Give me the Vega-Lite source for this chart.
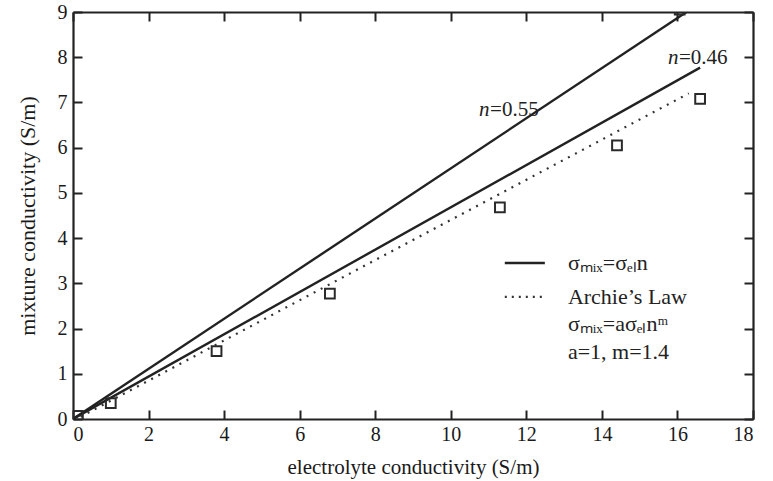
{
  "$schema": "https://vega.github.io/schema/vega-lite/v6.json",
  "width": 680,
  "height": 407,
  "autosize": {"type": "none"},
  "padding": {"left": 73, "top": 12, "right": 20, "bottom": 62},
  "background": "white",
  "config": {
    "view": {"stroke": null},
    "font": "Liberation Serif",
    "axis": {
      "grid": false,
      "domainColor": "#222",
      "domainWidth": 2.2,
      "tickColor": "#222",
      "tickWidth": 2,
      "tickSize": -9,
      "labelFont": "Liberation Serif",
      "labelFontSize": 20,
      "labelColor": "#1a1a1a",
      "titleFont": "Liberation Serif",
      "titleFontWeight": "normal",
      "titleColor": "#1a1a1a"
    }
  },
  "datasets": {
    "points": [
      {"x": 0.13, "y": 0.07},
      {"x": 1.0, "y": 0.35},
      {"x": 3.8, "y": 1.5},
      {"x": 6.8, "y": 2.77},
      {"x": 11.3, "y": 4.68},
      {"x": 14.4, "y": 6.05},
      {"x": 16.6, "y": 7.08},
      {"x": 16.06, "y": 9.05}
    ],
    "lines": [
      {"series": "n055", "x": 0, "y": 0},
      {"series": "n055", "x": 16.24, "y": 9.0},
      {"series": "n046", "x": 0, "y": 0},
      {"series": "n046", "x": 16.6, "y": 7.77}
    ],
    "archie": [
      {"x": 0.2, "y": 0.05},
      {"x": 16.3, "y": 7.2}
    ],
    "nlabels": [
      {"x": 10.75, "y": 6.83, "rest": "=0.55"},
      {"x": 15.75, "y": 7.98, "rest": "=0.46"}
    ],
    "legsolid": [{"x": 11.43, "x2": 12.49, "y": 3.45}],
    "legdot": [{"x": 11.43, "x2": 12.49, "y": 2.7}],
    "legtext": [
      {"x": 13.1, "y": 3.45, "t": "σₘᵢₓ=σₑₗn"},
      {"x": 13.1, "y": 2.7, "t": "Archie’s Law"},
      {"x": 13.1, "y": 2.1, "t": "σₘᵢₓ=aσₑₗnᵐ"},
      {"x": 13.1, "y": 1.48, "t": "a=1, m=1.4"}
    ]
  },
  "resolve": {"axis": {"x": "independent", "y": "independent"}},
  "layer": [
    {
      "data": {"name": "lines"},
      "mark": {"type": "line", "color": "#222", "strokeWidth": 2.4, "clip": true},
      "encoding": {
        "x": {"field": "x", "type": "quantitative", "scale": {"domain": [0, 18]},
              "axis": {"values": [0,2,4,6,8,10,12,14,16,18], "title": "electrolyte conductivity (S/m)", "titleFontSize": 21, "labelPadding": 14, "titlePadding": 12}},
        "y": {"field": "y", "type": "quantitative", "scale": {"domain": [0, 9]},
              "axis": {"values": [0,1,2,3,4,5,6,7,8,9], "title": "mixture conductivity (S/m)", "titleFontSize": 22, "labelPadding": 15, "titlePadding": 18}},
        "detail": {"field": "series"}
      }
    },
    {
      "data": {"name": "points"},
      "mark": {"type": "point", "shape": "square", "size": 95, "filled": false, "color": "#2a2a2a", "strokeWidth": 2, "opacity": 1, "clip": true},
      "encoding": {
        "x": {"field": "x", "type": "quantitative", "scale": {"domain": [0, 18]},
              "axis": {"orient": "top", "values": [0,2,4,6,8,10,12,14,16,18], "labels": false, "title": null}},
        "y": {"field": "y", "type": "quantitative", "scale": {"domain": [0, 9]},
              "axis": {"orient": "right", "values": [0,1,2,3,4,5,6,7,8,9], "labels": false, "title": null}}
      }
    },
    {
      "data": {"name": "archie"},
      "mark": {"type": "line", "color": "#333", "strokeWidth": 2.2, "strokeDash": [2, 6]},
      "encoding": {
        "x": {"field": "x", "type": "quantitative", "axis": null},
        "y": {"field": "y", "type": "quantitative", "axis": null}
      }
    },
    {
      "data": {"name": "nlabels"},
      "mark": {"type": "text", "text": "n", "font": "Liberation Serif", "fontSize": 21, "fontStyle": "italic", "align": "left", "baseline": "middle", "color": "#222"},
      "encoding": {
        "x": {"field": "x", "type": "quantitative", "axis": null},
        "y": {"field": "y", "type": "quantitative", "axis": null}
      }
    },
    {
      "data": {"name": "nlabels"},
      "mark": {"type": "text", "font": "Liberation Serif", "fontSize": 21, "align": "left", "baseline": "middle", "dx": 11, "color": "#222"},
      "encoding": {
        "x": {"field": "x", "type": "quantitative", "axis": null},
        "y": {"field": "y", "type": "quantitative", "axis": null},
        "text": {"field": "rest"}
      }
    },
    {
      "data": {"name": "legsolid"},
      "mark": {"type": "rule", "color": "#222", "strokeWidth": 2.4},
      "encoding": {
        "x": {"field": "x", "type": "quantitative", "axis": null},
        "x2": {"field": "x2"},
        "y": {"field": "y", "type": "quantitative", "axis": null}
      }
    },
    {
      "data": {"name": "legdot"},
      "mark": {"type": "rule", "color": "#333", "strokeWidth": 2.2, "strokeDash": [2, 5]},
      "encoding": {
        "x": {"field": "x", "type": "quantitative", "axis": null},
        "x2": {"field": "x2"},
        "y": {"field": "y", "type": "quantitative", "axis": null}
      }
    },
    {
      "data": {"name": "legtext"},
      "mark": {"type": "text", "font": "Liberation Serif", "fontSize": 22, "align": "left", "baseline": "middle", "color": "#222"},
      "encoding": {
        "x": {"field": "x", "type": "quantitative", "axis": null},
        "y": {"field": "y", "type": "quantitative", "axis": null},
        "text": {"field": "t"}
      }
    }
  ]
}
